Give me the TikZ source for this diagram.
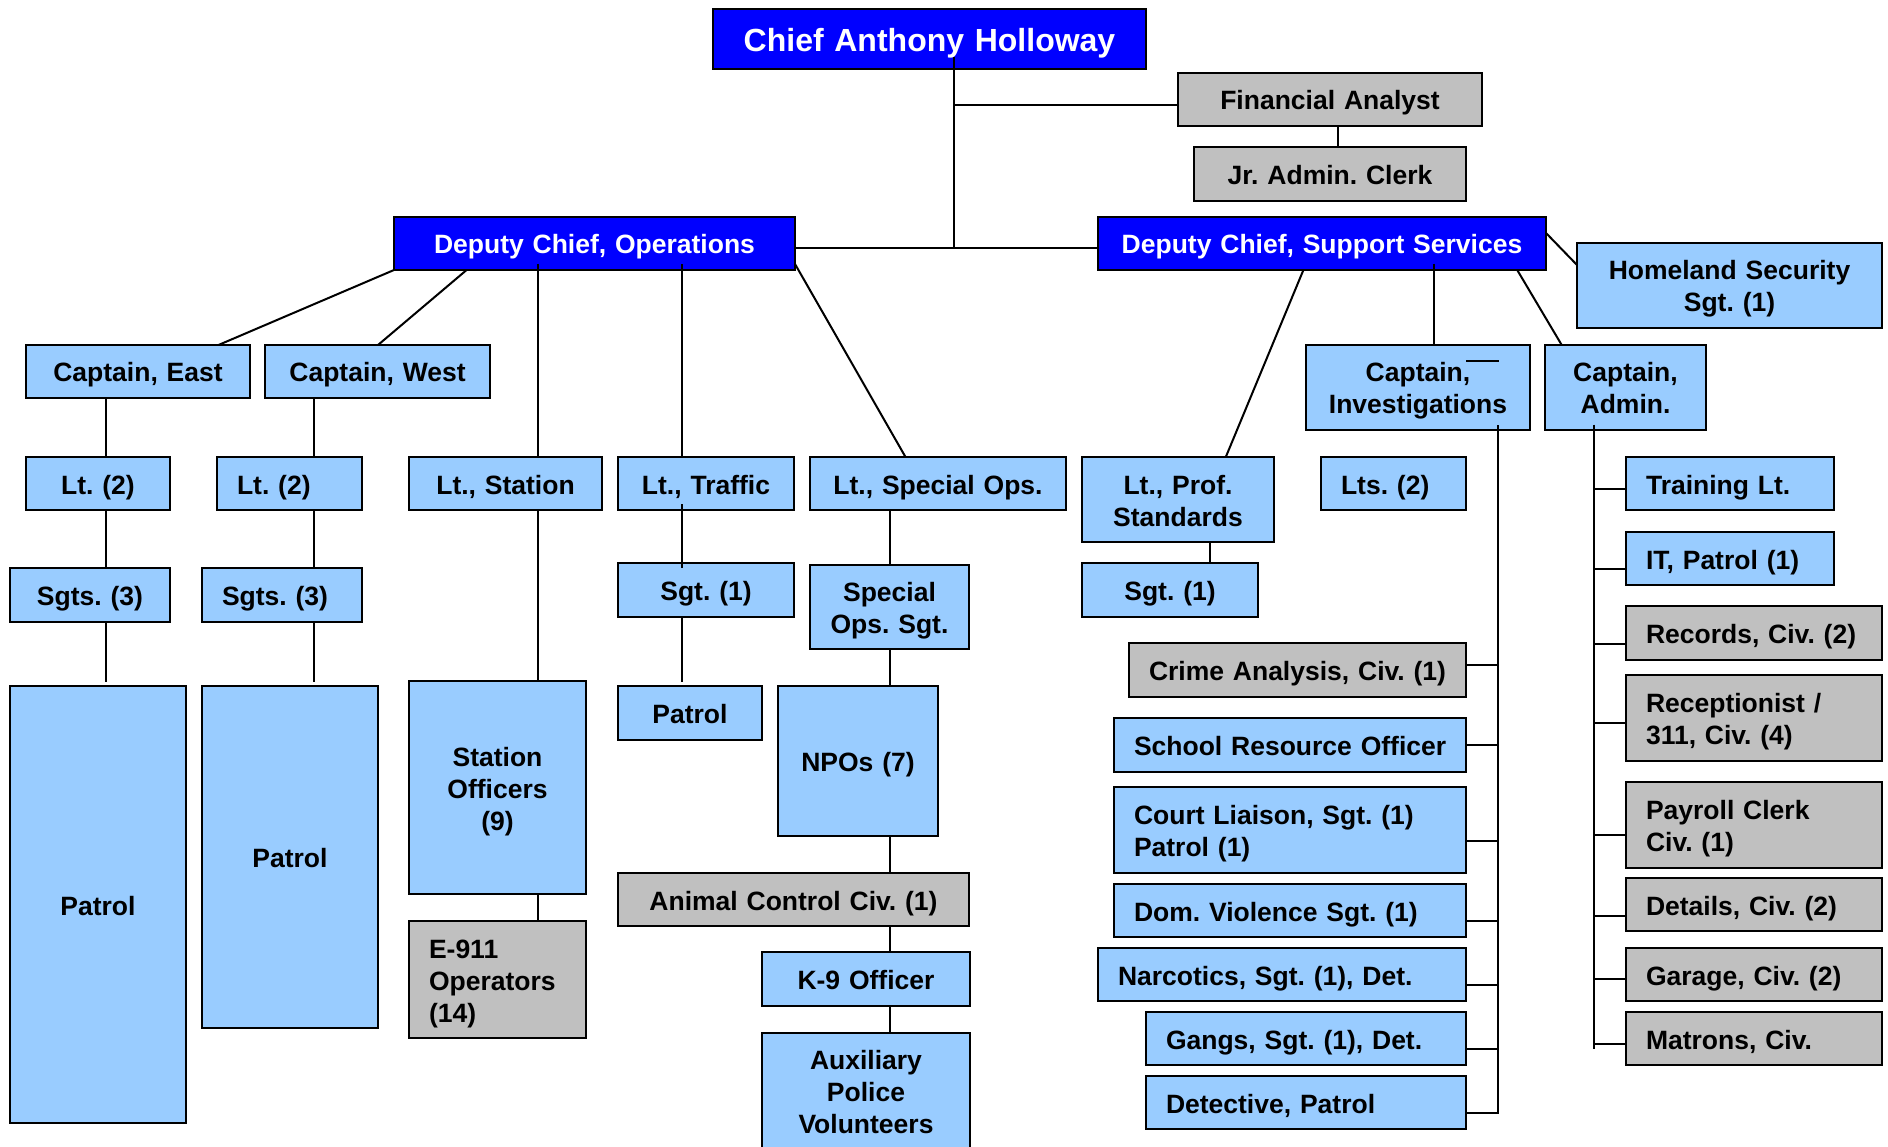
\documentclass[tikz,border=0pt]{standalone}
\usepackage{fontspec}
\setmainfont{Liberation Sans}
\usetikzlibrary{calc}
\definecolor{dblue}{RGB}{0,0,255}
\definecolor{lblue}{RGB}{153,204,255}
\definecolor{lgray}{RGB}{192,192,192}
\frenchspacing
\begin{document}
\begin{tikzpicture}[x=1pt,y=-1pt,
  box/.style={draw=black, line width=2.2pt, anchor=north west, inner ysep=0pt, outer sep=0pt,
    font=\bfseries\fontsize{26.5}{32}\selectfont\frenchspacing,
    execute at begin node={\rule{0pt}{27pt}},
    execute at end node={\rule[-6pt]{0pt}{6pt}}},
  lb/.style={box, fill=lblue},
  gb/.style={box, fill=lgray},
  db/.style={box, fill=dblue, text=white},
  cx/.style 2 args={inner xsep=0pt, text width=#1pt, minimum height=#2pt, align=center},
  lx/.style 2 args={inner xsep=20pt, text width=#1pt, minimum height=#2pt, align=left},
  conn/.style={draw=black, line width=2pt}]
\fill[white] (0,0) rectangle (1888,1147);
\useasboundingbox (0,0) rectangle (1888,1147);

% top level
\node[db,cx={433}{60},font=\bfseries\fontsize{32}{38}\selectfont,
  execute at begin node={\rule{0pt}{32pt}}] (chief) at (713,9) {Chief Anthony Holloway};
\node[db,cx={401}{53}] (dop) at (394,217) {Deputy Chief, Operations};
\node[db,cx={448}{53}] (dss) at (1098,217) {Deputy Chief, Support Services};
\node[gb,cx={304}{53}] (fa) at (1178,73) {Financial Analyst};
\node[gb,cx={272}{54}] (jac) at (1194,147) {Jr. Admin. Clerk};
\node[lb,cx={305}{85}] (hs) at (1577,243) {Homeland Security\\Sgt. (1)};

% captains
\node[lb,cx={224}{53}] (capE) at (26,345) {Captain, East};
\node[lb,cx={225}{53}] (capW) at (265,345) {Captain, West};
\node[lb,cx={224}{85}] (capI) at (1306,345) {Captain,\\Investigations};
\node[lb,cx={161}{85}] (capA) at (1545,345) {Captain,\\Admin.};

% lieutenants
\node[lb,cx={144}{53}] (ltE) at (26,457) {Lt. (2)};
\node[lb,lx={105}{53}] (ltW) at (217,457) {Lt. (2)};
\node[lb,cx={193}{53}] (ltst) at (409,457) {Lt., Station};
\node[lb,cx={176}{53}] (lttr) at (618,457) {Lt., Traffic};
\node[lb,cx={256}{53}] (ltso) at (810,457) {Lt., Special Ops.};
\node[lb,cx={192}{85}] (ltps) at (1082,457) {Lt., Prof.\\Standards};
\node[lb,lx={105}{53}] (lts2) at (1321,457) {Lts. (2)};
\node[lb,lx={168}{53}] (train) at (1626,457) {Training Lt.};
\node[lb,lx={168}{53}] (itp) at (1626,532) {IT, Patrol (1)};

% sergeants
\node[lb,cx={160}{54}] (sgE) at (10,568) {Sgts. (3)};
\node[lb,lx={120}{54}] (sgW) at (202,568) {Sgts. (3)};
\node[lb,cx={176}{54}] (sgtr) at (618,563) {Sgt. (1)};
\node[lb,cx={159}{84}] (sosg) at (810,565) {Special\\Ops. Sgt.};
\node[lb,cx={176}{54}] (sgps) at (1082,563) {Sgt. (1)};

% lower boxes
\node[gb,lx={216}{54}] (rec) at (1626,606) {Records, Civ. (2)};
\node[gb,lx={297}{54}] (crime) at (1129,643) {\mbox{Crime Analysis, Civ. (1)}};
\node[gb,lx={216}{86}] (recp) at (1626,675) {Receptionist /\\311, Civ. (4)};
\node[lb,cx={176}{437}] (patE) at (10,686) {Patrol};
\node[lb,cx={176}{342}] (patW) at (202,686) {Patrol};
\node[lb,cx={177}{213}] (stof) at (409,681) {Station\\Officers\\(9)};
\node[lb,cx={144}{54}] (patT) at (618,686) {Patrol};
\node[lb,cx={160}{150}] (npo) at (778,686) {NPOs (7)};
\node[lb,lx={312}{54}] (sro) at (1114,718) {\mbox{School Resource Officer}};
\node[lb,lx={312}{86}] (court) at (1114,787) {Court Liaison, Sgt. (1)\\Patrol (1)};
\node[gb,lx={216}{86}] (pay) at (1626,782) {Payroll Clerk\\Civ. (1)};
\node[gb,cx={351}{53}] (anim) at (618,873) {Animal Control Civ. (1)};
\node[gb,lx={216}{53}] (dtl) at (1626,878) {Details, Civ. (2)};
\node[lb,lx={312}{53}] (dom) at (1114,884) {Dom. Violence Sgt. (1)};
\node[gb,lx={137}{117}] (e911) at (409,921) {E-911\\Operators\\(14)};
\node[lb,lx={328}{53}] (narc) at (1098,948) {Narcotics, Sgt. (1), Det.};
\node[gb,lx={216}{53}] (gar) at (1626,948) {Garage, Civ. (2)};
\node[lb,cx={208}{54}] (k9) at (762,952) {K-9 Officer};
\node[lb,lx={280}{53}] (gang) at (1146,1012) {Gangs, Sgt. (1), Det.};
\node[gb,lx={216}{53}] (mat) at (1626,1012) {Matrons, Civ.};
\node[lb,cx={208}{116}] (aux) at (762,1033) {Auxiliary\\Police\\Volunteers};
\node[lb,lx={280}{53}] (det) at (1146,1076) {Detective, Patrol};

% helper coordinates
\coordinate (xA) at (106,0);
\coordinate (xB) at (313.7,0);
\coordinate (xst) at (537.6,0);
\coordinate (xtr) at (681.5,0);
\coordinate (xso) at (889.8,0);
\coordinate (xfa) at (1337.7,0);
\coordinate (xps) at (1209.5,0);
\coordinate (xci) at (1434,0);
\coordinate (bus) at (953.7,248.5);
\coordinate (ibt) at (1497.9,424.7);
\coordinate (abt) at (1593.6,424.7);
\coordinate (abb) at (1593.6,1048.6);

% top connectors
\draw[conn] ($(chief.south -| bus)+(0,-12)$) -- (bus);
\draw[conn] (dop.east |- bus) -- (dss.west |- bus);
\draw[conn] ($(fa.north west)+(0,32)$) -| (bus);
\draw[conn] (fa.south -| xfa) -- (jac.north -| xfa);

% diagonals
\draw[conn] (dop.south west) -- ($(capE.north west)+(192.5,0)$);
\draw[conn] ($(dop.south west)+(72.6,0)$) -- ($(capW.north west)+(113,0)$);
\draw[conn] ($(dop.south east)+(0,-6)$) -- ($(ltso.north west)+(95.5,0)$);
\draw[conn] ($(dss.north east)+(0,16)$) -- ($(hs.north west)+(0,22)$);
\draw[conn] ($(dss.south west)+(205.4,0)$) -- ($(ltps.north west)+(143.8,0)$);
\draw[conn] ($(dss.south west)+(419.2,0)$) -- ($(capA.north west)+(16.7,0)$);

% verticals
\draw[conn] ($(dop.south -| xst)+(0,-6)$) -- (ltst.north -| xst);
\draw[conn] ($(dop.south -| xtr)+(0,-6)$) -- (lttr.north -| xtr);
\draw[conn] ($(dss.south -| xci)+(0,-6)$) -- (capI.north -| xci);
\draw[conn] (capE.south -| xA) -- (ltE.north -| xA);
\draw[conn] (ltE.south -| xA) -- (sgE.north -| xA);
\draw[conn] (sgE.south -| xA) -- ($(patE.north -| xA)+(0,-4)$);
\draw[conn] (capW.south -| xB) -- (ltW.north -| xB);
\draw[conn] (ltW.south -| xB) -- (sgW.north -| xB);
\draw[conn] (sgW.south -| xB) -- ($(patW.north -| xB)+(0,-4)$);
\draw[conn] (ltst.south -| xst) -- (stof.north -| xst);
\draw[conn] (stof.south -| xst) -- (e911.north -| xst);
\draw[conn] ($(lttr.south -| xtr)+(0,-6)$) -- ($(sgtr.north -| xtr)+(0,5)$);
\draw[conn] (sgtr.south -| xtr) -- ($(patT.north -| xtr)+(0,-4)$);
\draw[conn] (ltso.south -| xso) -- (sosg.north -| xso);
\draw[conn] (sosg.south -| xso) -- (npo.north -| xso);
\draw[conn] (npo.south -| xso) -- (anim.north -| xso);
\draw[conn] (anim.south -| xso) -- (k9.north -| xso);
\draw[conn] (k9.south -| xso) -- (aux.north -| xso);
\draw[conn] (ltps.south -| xps) -- (sgps.north -| xps);

% investigations bus
\foreach \n/\d in {crime/22, sro/27, court/54, dom/37, narc/37, gang/37, det/37}
  \draw[conn] ($(\n.north east)+(0,\d)$) -| (ibt);

% admin bus
\draw[conn] (abt) -- (abb);
\foreach \n/\d in {train/32, itp/37, rec/37.5, recp/48, pay/53, dtl/38, gar/31, mat/32}
  \draw[conn] ($(\n.north west)+(0,\d)$) -| (abt);

% small mark in Captain, Investigations
\draw[line width=1.5pt] ($(capI.north west)+(160,16)$) -- ($(capI.north west)+(193,16)$);
\end{tikzpicture}
\end{document}
